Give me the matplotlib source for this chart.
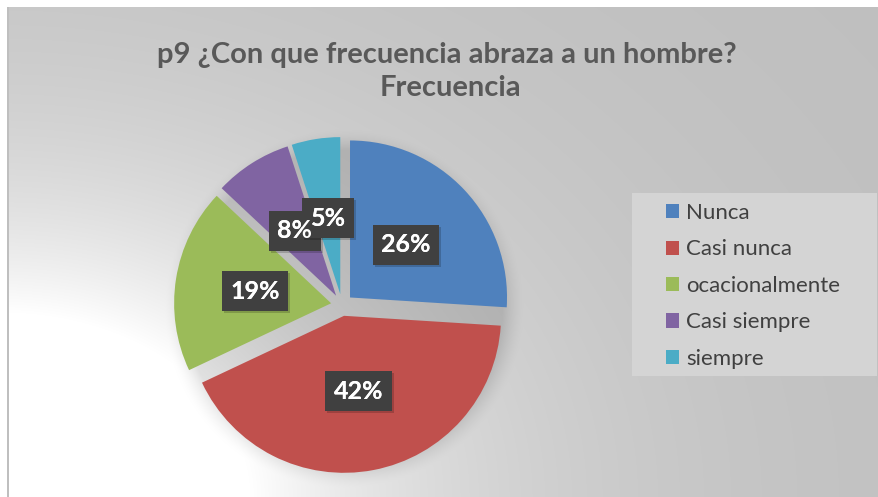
import numpy as np
import matplotlib
matplotlib.use("Agg")
import matplotlib.pyplot as plt
from matplotlib.patches import Rectangle
import matplotlib.patheffects as pe

categories = ["Nunca", "Casi nunca", "ocacionalmente", "Casi siempre", "siempre"]
values = [26, 42, 19, 8, 5]
colors = ["#4f81bd", "#c0504d", "#9bbb59", "#8064a2", "#4bacc6"]
title_line1 = "p9 ¿Con que frecuencia abraza a un hombre?"
title_line2 = "Frecuencia"

W, H = 879, 497
PIE_CX, PIE_CY, PIE_R = 342, 305, 157   # pixel coords (y from top)

fig = plt.figure(figsize=(W / 100, H / 100), dpi=100)
ax = fig.add_axes([0, 0, 1, 1])

# background gradient: light at bottom-left corner, gray elsewhere
yy, xx = np.mgrid[0:H, 0:W].astype(float)
r = np.sqrt((xx / 1.35) ** 2 + (yy - H) ** 2)
f = np.where(r < 185, 1.0, np.exp(-(r - 185) / 170.0))
val = 190 + 65 * f
# soft pie shadow
dp = np.sqrt((xx - PIE_CX - 2) ** 2 + (yy - PIE_CY - 3) ** 2)
sh = np.clip(1 - (dp - 158) / 22.0, 0, 1) ** 1.5
val = val - 28 * sh
val = np.clip(val, 0, 255) / 255.0
img = np.dstack([val, val, val])
img[:7, :, :] = 1.0
img[:, :7, :] = 1.0
img[7:, 7:9, :] = 0.75
ax.imshow(img, extent=[0, W, 0, H], origin="upper", zorder=0, aspect="auto")

wedges, texts, autotexts = ax.pie(
    values, colors=colors, startangle=90, counterclock=False,
    center=(PIE_CX, H - PIE_CY), radius=PIE_R, explode=[11] * len(values),
    autopct="%1.0f%%", pctdistance=0.49,
    wedgeprops=dict(linewidth=0),
    textprops=dict(color="white", fontsize=18, fontweight="bold", family="Lato"),
    frame=True,
)
for w in wedges:
    w.set_zorder(2)
for t in autotexts:
    t.set_zorder(5)
    t.set_bbox(dict(boxstyle="square,pad=0.34", facecolor="#404040", edgecolor="none"))
    t.get_bbox_patch().set_path_effects(
        [pe.SimplePatchShadow(offset=(1.5, -1.5), shadow_rgbFace="black", alpha=0.18), pe.Normal()])
    # text drawn again above all label boxes
    x, y = t.get_position()
    ax.text(x, y, t.get_text(), ha=t.get_ha(), va=t.get_va(), color="white",
            fontsize=18, fontweight="bold", family="Lato", zorder=7)
ax.set_xlim(0, W)
ax.set_ylim(0, H)
ax.set_aspect("auto")
ax.axis("off")

ax.text(447, H - 63, title_line1, ha="center", va="baseline",
        fontsize=21, fontweight="bold", color="#595959", family="Lato")
ax.text(450, H - 96, title_line2, ha="center", va="baseline",
        fontsize=21, fontweight="bold", color="#595959", family="Lato")

# legend frame
ax.add_patch(Rectangle((632, H - 376), 245, 183, facecolor="#d4d4d4", edgecolor="none", zorder=3))
leg = ax.legend(wedges, categories, loc="upper left", bbox_to_anchor=(666 / W, (H - 203) / H),
                frameon=False, handlelength=0.6, handleheight=0.6,
                handletextpad=0.3, labelspacing=0.74, borderpad=0, borderaxespad=0,
                prop=dict(family="Lato", size=16))
for t in leg.get_texts():
    t.set_color("#404040")
leg.set_zorder(6)

fig.savefig("out.png", dpi=100)
